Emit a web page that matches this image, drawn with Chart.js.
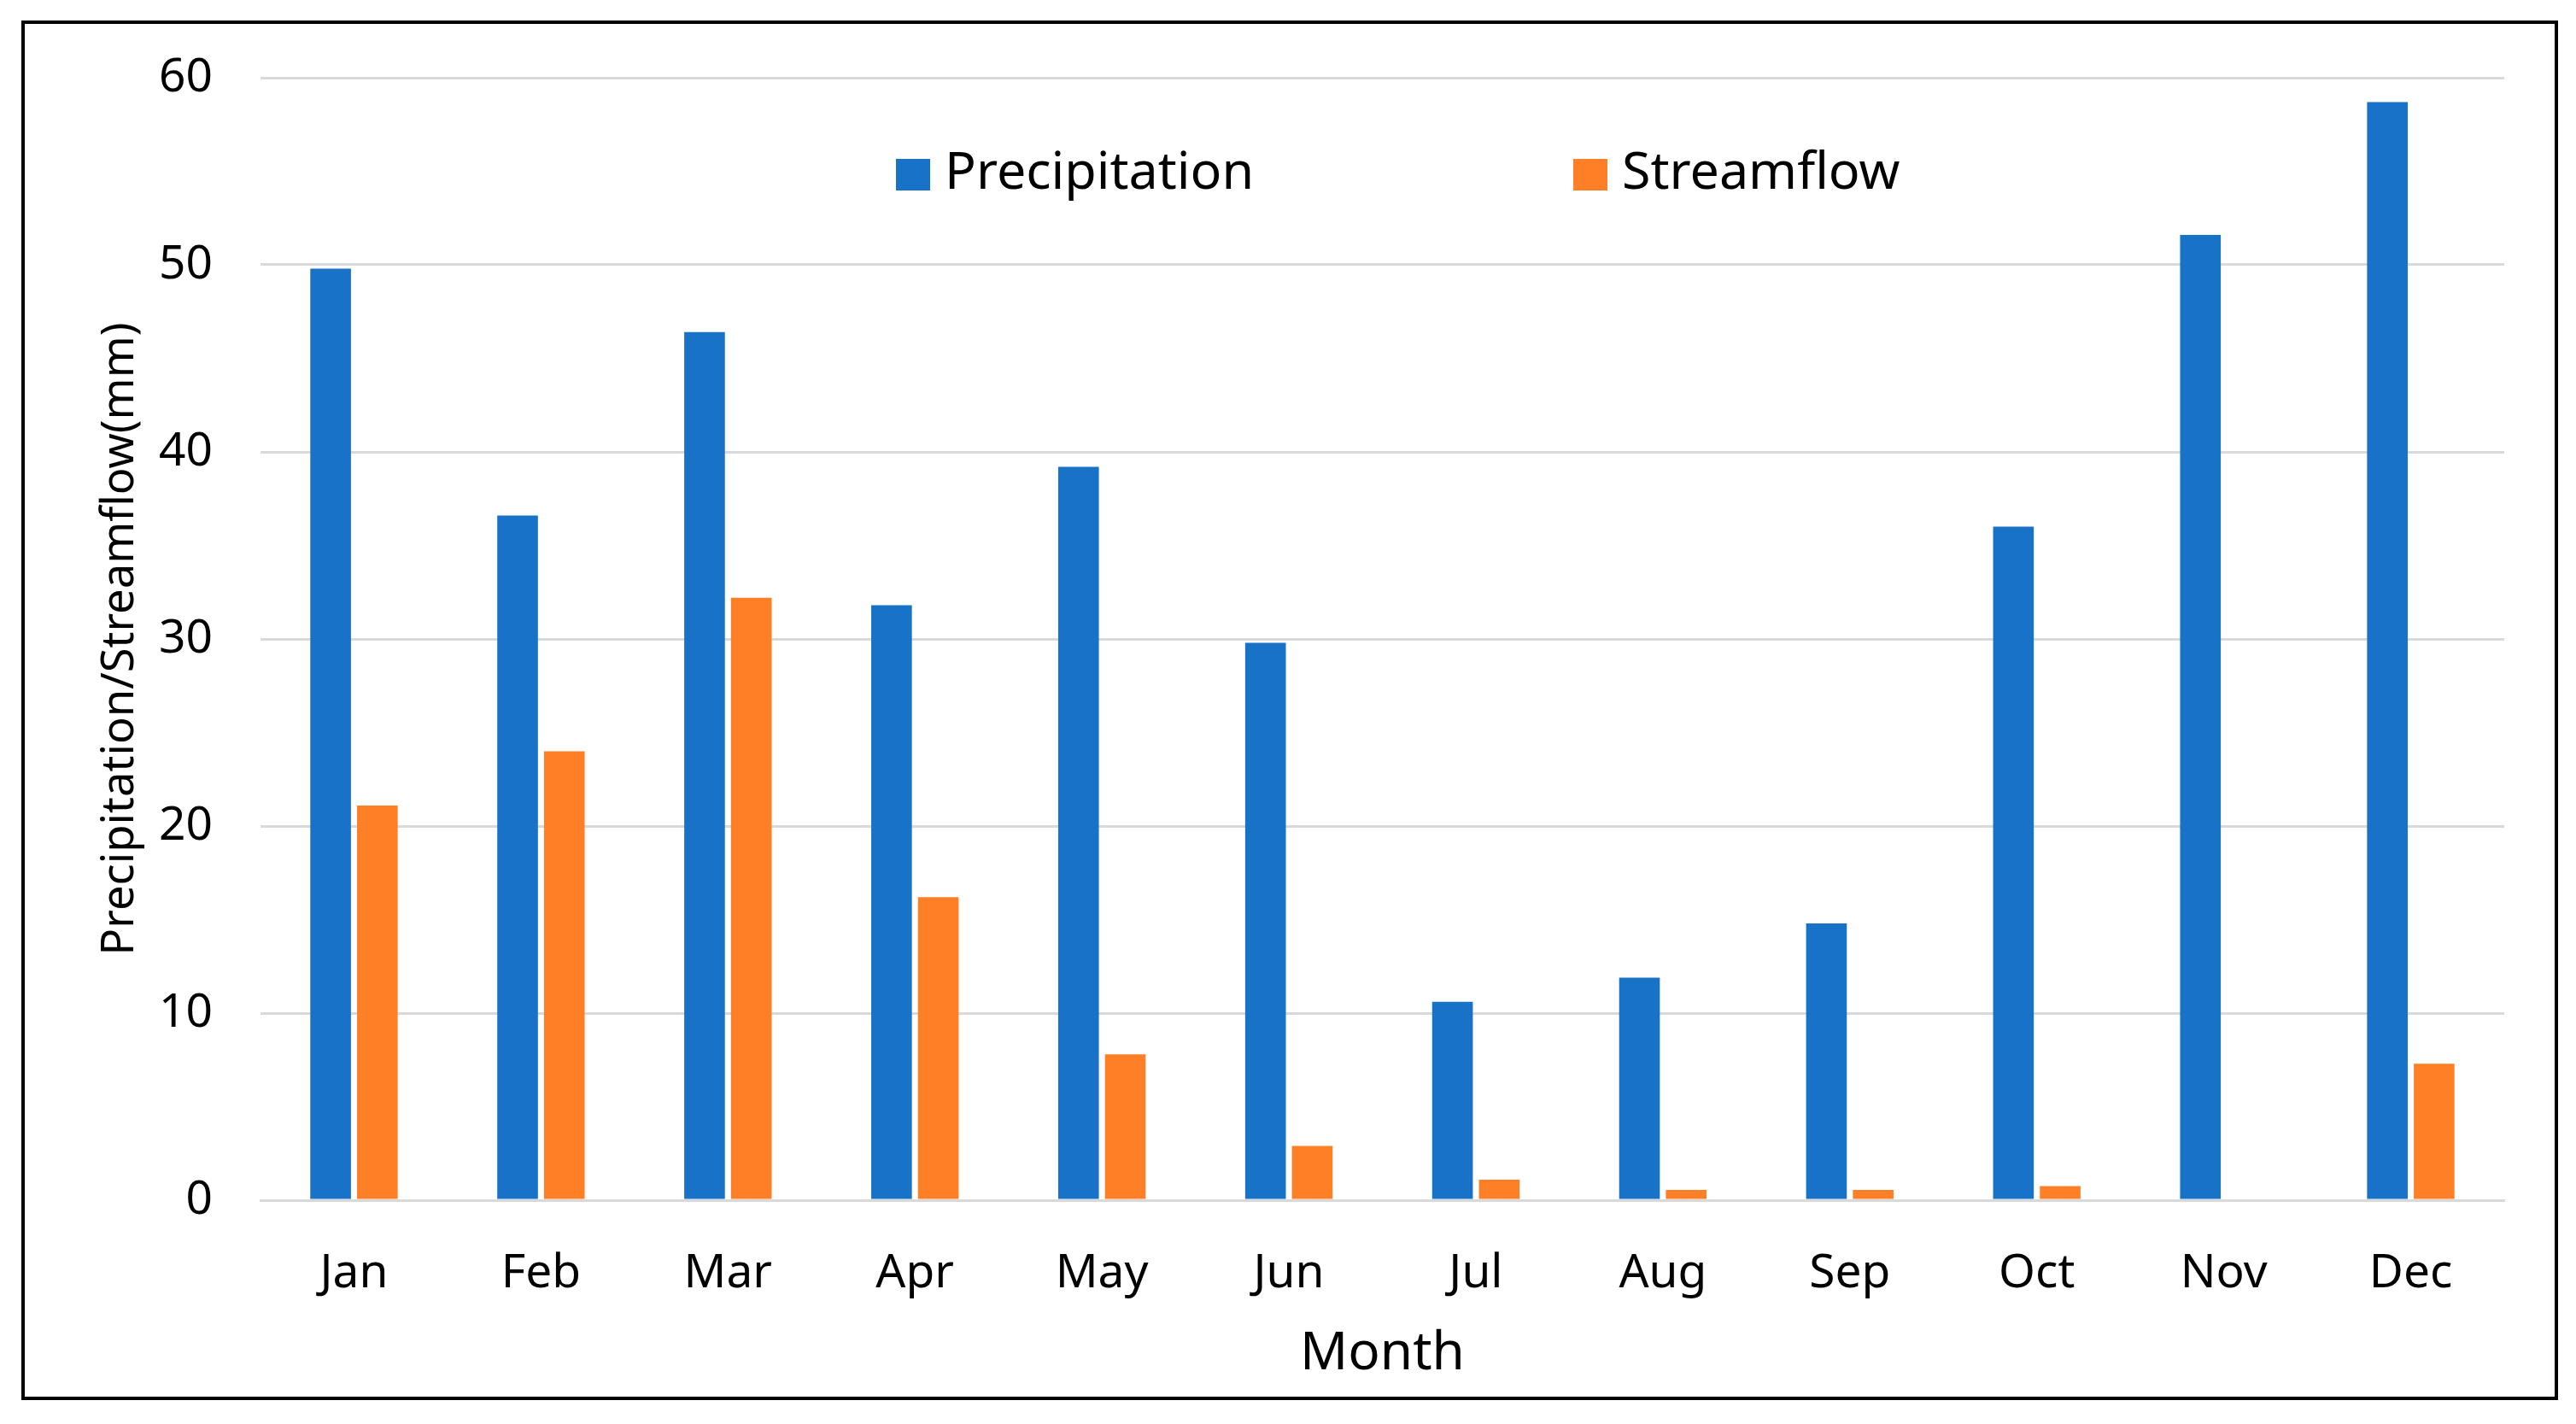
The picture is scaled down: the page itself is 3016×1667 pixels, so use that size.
<!DOCTYPE html>
<html>
<head>
<meta charset="utf-8">
<script src="https://cdn.jsdelivr.net/npm/chart.js@4.4.1/dist/chart.umd.min.js"></script>
<style>
    html, body { margin: 0; padding: 0; background: #fff; }
    #grafico { display: block; }
</style>
</head>
<body>
<canvas id="grafico" width="3016" height="1667"></canvas>
<script>
// dados (mm por mes)
const meses = ["Jan", "Feb", "Mar", "Apr", "May", "Jun", "Jul", "Aug", "Sep", "Oct", "Nov", "Dec"];
const precipitacao = [49.8, 36.6, 46.4, 31.8, 39.2, 29.8, 10.6, 11.9, 14.8, 36.0, 51.6, 58.7];
const vazao = [21.1, 24.0, 32.2, 16.2, 7.8, 2.9, 1.1, 0.55, 0.55, 0.75, 0, 7.3];
const ticksY = [0, 10, 20, 30, 40, 50, 60];
const nomesSeries = ["Precipitation", "Streamflow"];

const corAzul = "#1772c8";
const corLaranja = "#ff7f27";
const fonte = "'Noto Sans', sans-serif";

// moldura preta em volta de tudo
const moldura = {
    id: "moldura",
    afterDraw(chart) {
        const ctx = chart.ctx;
        ctx.save();
        ctx.strokeStyle = "#000";
        ctx.lineWidth = 4;
        ctx.strokeRect(27, 26, 2966, 1611);
        ctx.restore();
    }
};

// legenda dentro da area do grafico, como no Excel
const legendaInterna = {
    id: "legendaInterna",
    afterDraw(chart) {
        const ctx = chart.ctx;
        const posicoes = [1049, 1842];
        ctx.save();
        ctx.font = "61px " + fonte;
        ctx.textBaseline = "middle";
        chart.data.datasets.forEach((ds, i) => {
            const x = posicoes[i];
            ctx.fillStyle = ds.backgroundColor;
            ctx.fillRect(x, 186, 40, 37);
            ctx.fillStyle = "#000";
            ctx.fillText(ds.label, x + 57, 204);
        });
        ctx.restore();
    }
};

new Chart(document.getElementById("grafico"), {
    type: "bar",
    data: {
        labels: meses,
        datasets: [
            { label: nomesSeries[0], data: precipitacao, backgroundColor: corAzul },
            { label: nomesSeries[1], data: vazao, backgroundColor: corLaranja }
        ]
    },
    options: {
        responsive: false,
        animation: false,
        devicePixelRatio: 1,
        layout: { padding: { top: 91, right: 84, bottom: 0, left: 0 } },
        datasets: {
            bar: { categoryPercentage: 0.5, barPercentage: 0.87, borderWidth: 0 }
        },
        plugins: {
            legend: { display: false },
            tooltip: { enabled: false }
        },
        scales: {
            x: {
                grid: { display: false, drawTicks: false },
                border: { display: true, color: "#d9d9d9", width: 3 },
                ticks: { color: "#000", padding: 53, font: { family: fonte, size: 55 } },
                title: {
                    display: true,
                    text: "Month",
                    color: "#000",
                    font: { family: fonte, size: 62 },
                    padding: { top: 0, bottom: 44 }
                },
                afterFit(scale) { scale.height = 262; }
            },
            y: {
                min: 0,
                max: 60,
                afterBuildTicks(scale) { scale.ticks = ticksY.map(v => ({ value: v })); },
                grid: { color: "#d9d9d9", lineWidth: 3, drawTicks: false },
                border: { display: false },
                ticks: { color: "#000", padding: 56, font: { family: fonte, size: 55 } },
                title: {
                    display: true,
                    text: "Precipitation/Streamflow(mm)",
                    color: "#000",
                    font: { family: fonte, size: 52.5 },
                    padding: { top: 110, bottom: 0 }
                },
                afterFit(scale) { scale.width = 305; }
            }
        }
    },
    plugins: [moldura, legendaInterna]
});
</script>
</body>
</html>
